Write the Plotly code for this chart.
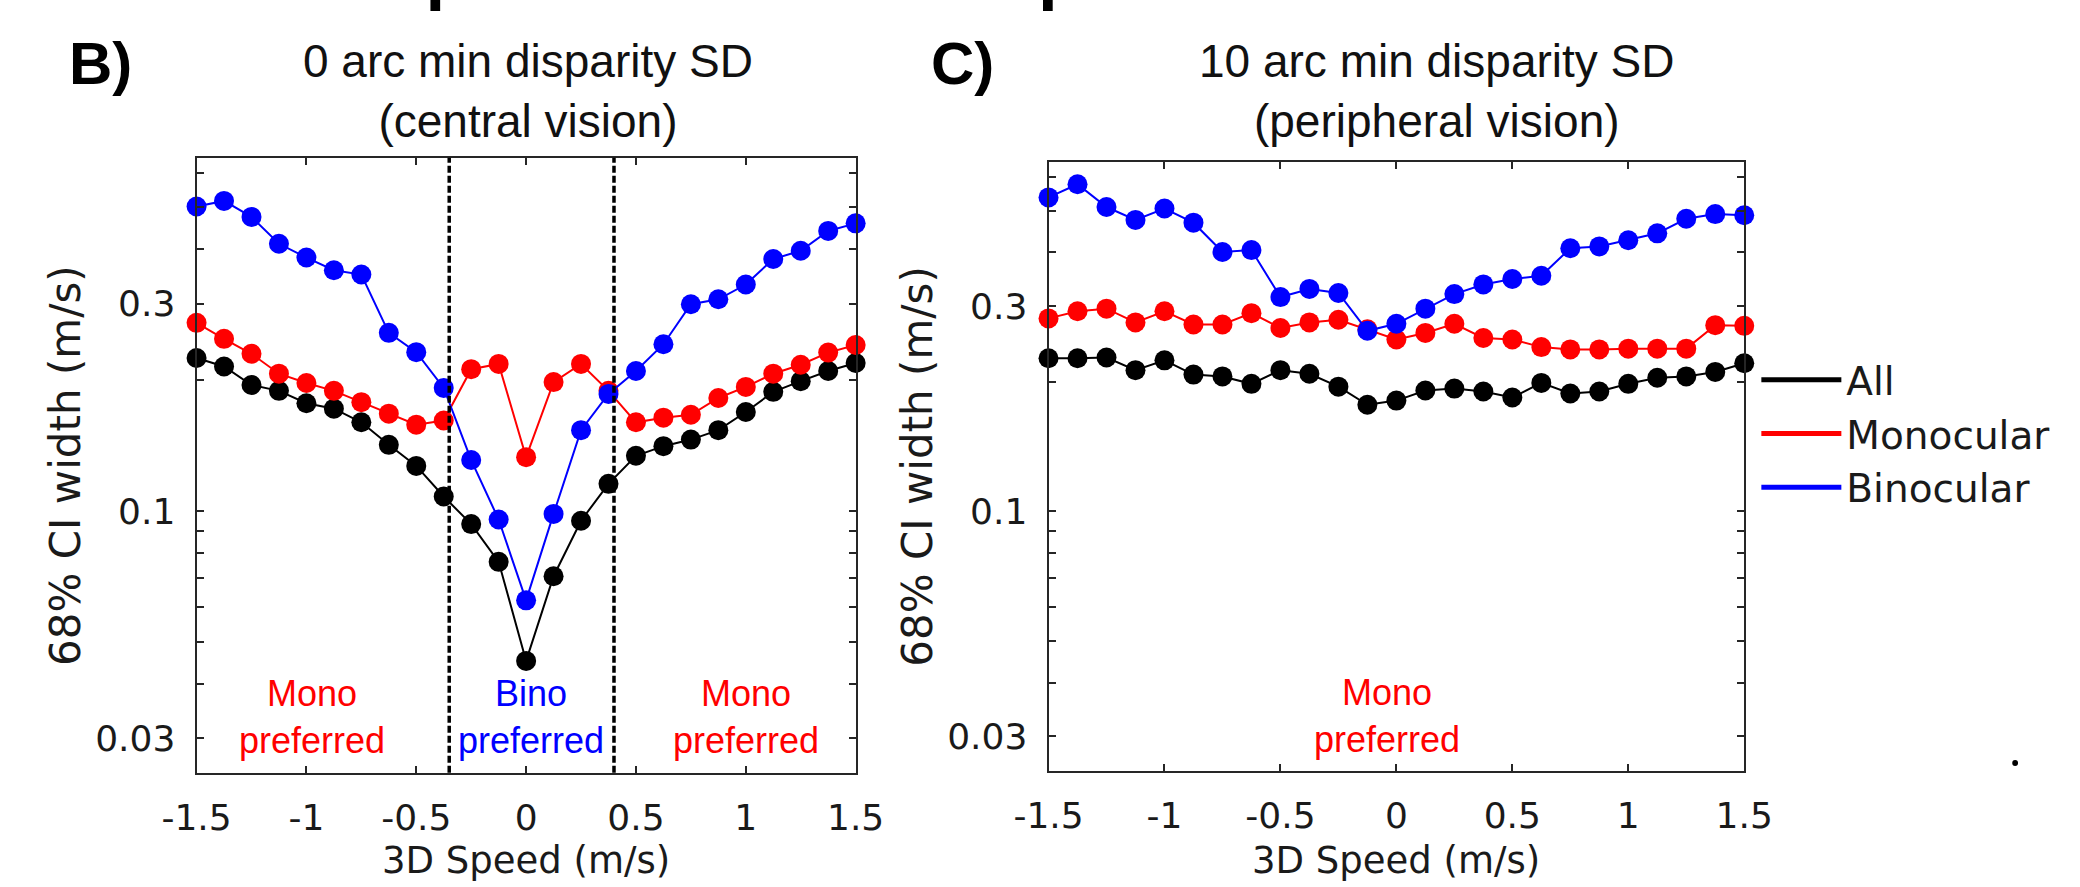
import math
import plotly.graph_objects as go

# ---------------- data ----------------
speed = [-1.5, -1.375, -1.25, -1.125, -1.0, -0.875, -0.75, -0.625, -0.5, -0.375, -0.25, -0.125,
         0.0, 0.125, 0.25, 0.375, 0.5, 0.625, 0.75, 0.875, 1.0, 1.125, 1.25, 1.375, 1.5]

central_all = [0.225, 0.215, 0.195, 0.189, 0.177, 0.172, 0.160, 0.142, 0.127, 0.108, 0.0933, 0.0764,
               0.0452, 0.0708, 0.095, 0.1155, 0.134, 0.141, 0.146, 0.1535, 0.169, 0.188, 0.199, 0.210, 0.219]
central_mono = [0.271, 0.249, 0.230, 0.207, 0.197, 0.189, 0.178, 0.1675, 0.158, 0.1615, 0.212, 0.218,
                0.133, 0.198, 0.218, 0.189, 0.160, 0.164, 0.1665, 0.182, 0.193, 0.207, 0.217, 0.2315, 0.241]
central_bino = [0.502, 0.517, 0.475, 0.412, 0.383, 0.358, 0.350, 0.257, 0.232, 0.192, 0.131, 0.0956,
                0.0623, 0.0985, 0.1535, 0.186, 0.210, 0.242, 0.299, 0.307, 0.332, 0.380, 0.397, 0.441, 0.459]

periph_all = [0.227, 0.227, 0.228, 0.213, 0.2245, 0.208, 0.206, 0.198, 0.213, 0.209, 0.195, 0.177,
              0.181, 0.191, 0.193, 0.190, 0.184, 0.199, 0.188, 0.190, 0.198, 0.2045, 0.206, 0.211, 0.221]
periph_mono = [0.281, 0.292, 0.296, 0.275, 0.292, 0.272, 0.272, 0.289, 0.267, 0.275, 0.279, 0.265,
               0.251, 0.260, 0.273, 0.253, 0.251, 0.241, 0.238, 0.238, 0.239, 0.239, 0.239, 0.271, 0.270]
periph_bino = [0.537, 0.576, 0.510, 0.476, 0.506, 0.469, 0.401, 0.405, 0.315, 0.329, 0.322, 0.263,
               0.273, 0.296, 0.320, 0.337, 0.347, 0.353, 0.409, 0.413, 0.427, 0.443, 0.479, 0.491, 0.488]

series_names = ["All", "Monocular", "Binocular"]
series_colors = ["#000000", "#ff0000", "#0000ff"]

boundaries = [-0.35, 0.4]

ytickvals = [0.03, 0.04, 0.05, 0.06, 0.07, 0.08, 0.09, 0.1, 0.2, 0.3, 0.4, 0.5, 0.6]
yticktext = ["0.03", "", "", "", "", "", "", "0.1", "", "0.3", "", "", ""]
xtickvals = [-1.5, -1, -0.5, 0, 0.5, 1, 1.5]
xticktext = ["-1.5", "-1", "-0.5", "0", "0.5", "1", "1.5"]
yrange = [0.025, 0.65]

panel_titles = ["0 arc min disparity SD<br>(central vision)",
                "10 arc min disparity SD<br>(peripheral vision)"]
panel_letters = ["B)", "C)"]
xlabel = "3D Speed (m/s)"
ylabel = "68% CI width (m/s)"

# ---------------- layout geometry (pixels) ----------------
W, H = 2080, 887
def px(x):
    return x / W
def py(y):
    return 1 - y / H

L1 = (166.7, 846.7, 157.7, 772.7)   # left, right, top, bottom
L2 = (1045.7, 1763.5, 161.7, 770.5)

fig = go.Figure()

panels = [
    ("x", "y", [central_all, central_mono, central_bino]),
    ("x2", "y2", [periph_all, periph_mono, periph_bino]),
]
for (xa, ya, sets) in panels:
    for name, color, vals in zip(series_names, series_colors, sets):
        fig.add_trace(go.Scatter(
            x=speed, y=vals, xaxis=xa, yaxis=ya, mode="lines+markers",
            line=dict(color=color, width=2),
            marker=dict(color=color, size=20, line=dict(width=0)),
            cliponaxis=False, showlegend=False, name=name))

# legend entries (line only)
for name, color in zip(series_names, series_colors):
    fig.add_trace(go.Scatter(x=[None], y=[None], xaxis="x2", yaxis="y2", mode="lines",
                             line=dict(color=color, width=1.8), name=name, showlegend=True))

axis_common = dict(showline=True, linecolor="#262626", linewidth=2, mirror="ticks",
                   ticks="inside", ticklen=7, tickwidth=1.5, tickcolor="#262626",
                   showgrid=False, zeroline=False,
                   tickfont=dict(family="DejaVu Sans", size=36, color="#1a1a1a"))

def xaxis_cfg(box, anchor):
    return dict(domain=[px(box[0]), px(box[1])], anchor=anchor, range=[-1.5, 1.5],
                tickmode="array", tickvals=xtickvals, ticktext=xticktext,
                ticklabelstandoff=12, **axis_common)

def yaxis_cfg(box, anchor):
    return dict(domain=[py(box[3]), py(box[2])], anchor=anchor, type="log",
                range=[math.log10(yrange[0]), math.log10(yrange[1])],
                tickmode="array", tickvals=ytickvals, ticktext=yticktext,
                ticklabelstandoff=12, **axis_common)

annotations = []
shapes = []

title_font = dict(family="Liberation Sans, Arial, sans-serif", size=46, color="#111111")
lab_font = dict(family="DejaVu Sans", size=37, color="#1a1a1a")
ylab_font = dict(family="DejaVu Sans", size=42, color="#1a1a1a")

for i, box in enumerate([L1, L2]):
    cx = (box[0] + box[1]) / 2
    tcx = [509, 1446][i]
    annotations.append(dict(text=panel_titles[i], x=px(tcx), y=py(33), xref="paper", yref="paper",
                            xanchor="center", yanchor="top", showarrow=False, font=title_font,
                            align="center"))
    annotations.append(dict(text=xlabel, x=px(cx), y=py(860), xref="paper", yref="paper",
                            xanchor="center", yanchor="middle", showarrow=False, font=lab_font))
    annotations.append(dict(text=ylabel, x=px(box[0] - 136), y=py((box[2] + box[3]) / 2),
                            xref="paper", yref="paper", xanchor="center", yanchor="middle",
                            textangle=-90, showarrow=False, font=ylab_font))
    annotations.append(dict(text="<b>" + panel_letters[i] + "</b>", x=px([68, 957][i]), y=py(63),
                            xref="paper", yref="paper", xanchor="center", yanchor="middle",
                            showarrow=False,
                            font=dict(family="Liberation Sans, Arial, sans-serif", size=60,
                                      color="#000000")))

# region labels
region_font_size = 36
def region(text, x, xref, yref, color):
    annotations.append(dict(text=text, x=x, y=math.log10(0.0335), xref=xref, yref=yref,
                            xanchor="center", yanchor="middle", showarrow=False, align="center",
                            font=dict(family="Liberation Sans, Arial, sans-serif",
                                      size=region_font_size, color=color)))

region("Mono<br>preferred", -0.975, "x", "y", "#ff0000")
region("Bino<br>preferred", 0.02, "x", "y", "#0000ff")
region("Mono<br>preferred", 1.0, "x", "y", "#ff0000")
region("Mono<br>preferred", -0.04, "x2", "y2", "#ff0000")

for b in boundaries:
    shapes.append(dict(type="line", xref="x", yref="y domain", x0=b, x1=b, y0=0, y1=1,
                       line=dict(color="#000000", width=3.5, dash="7px,3px")))

# stray marks at the top and right edge of the figure
for bx in [408, 1040]:
    shapes.append(dict(type="rect", xref="paper", yref="paper", x0=px(bx), x1=px(bx + 10),
                       y0=py(11), y1=py(0), fillcolor="#000000", line=dict(width=0)))
shapes.append(dict(type="circle", xref="paper", yref="paper", x0=px(2040), x1=px(2046),
                   y0=py(766), y1=py(760), fillcolor="#000000", line=dict(width=0)))

fig.update_layout(
    width=W, height=H, margin=dict(l=0, r=0, t=0, b=0),
    paper_bgcolor="white", plot_bgcolor="white",
    xaxis=xaxis_cfg(L1, "y"), yaxis=yaxis_cfg(L1, "x"),
    xaxis2=xaxis_cfg(L2, "y2"), yaxis2=yaxis_cfg(L2, "x2"),
    annotations=annotations, shapes=shapes,
    legend=dict(x=px(1776), y=py(348), xanchor="left", yanchor="top",
                font=dict(family="DejaVu Sans", size=39, color="#1a1a1a"),
                bgcolor="rgba(0,0,0,0)", borderwidth=0, itemwidth=80,
                tracegroupgap=0, itemsizing="constant"),
)

fig.write_html("out.html")
